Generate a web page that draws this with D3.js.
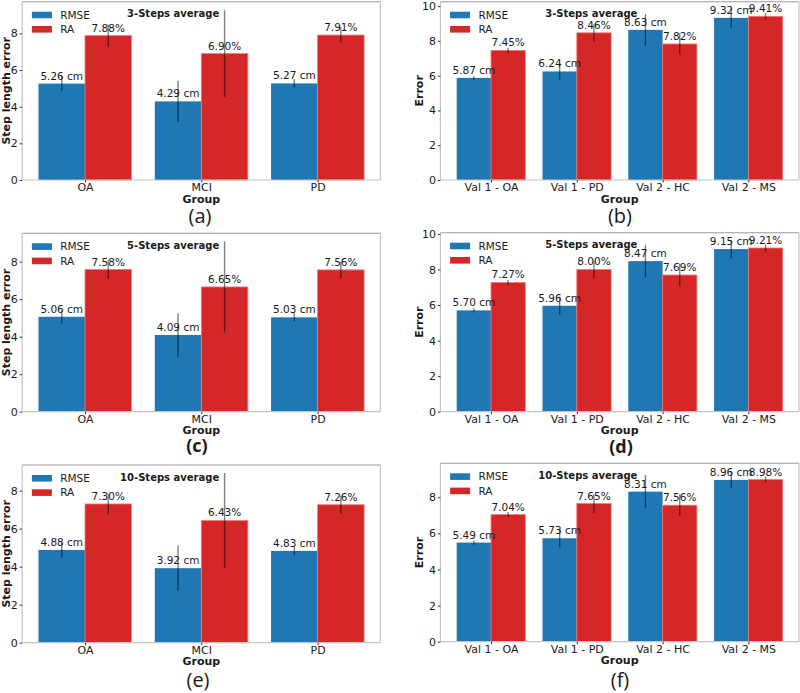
<!DOCTYPE html>
<html>
<head>
<meta charset="utf-8">
<script src="https://cdn.jsdelivr.net/npm/d3@7"></script>
<style>
  html, body { margin: 0; padding: 0; background: #fff; }
  svg { display: block; }
  text { font-family: "DejaVu Sans", sans-serif; fill: #1a1a1a; }
</style>
</head>
<body>
<svg id="chart" width="800" height="693"></svg>
<script>
// ---------- data ----------
const groupsLeft = ["OA", "MCI", "PD"];
const groupsRight = ["Val 1 - OA", "Val 1 - PD", "Val 2 - HC", "Val 2 - MS"];
const seriesNames = ["RMSE", "RA"];

const rmse3L = [5.26, 4.29, 5.27];
const ra3L = [7.88, 6.90, 7.91];
const rmse3LErr = [0.42, 1.13, 0.23];
const ra3LErr = [0.61, 2.36, 0.44];

const rmse3R = [5.87, 6.24, 8.63, 9.32];
const ra3R = [7.45, 8.46, 7.82, 9.41];
const rmse3RErr = [0.10, 0.50, 0.92, 0.57];
const ra3RErr = [0.15, 0.50, 0.62, 0.20];

const rmse5L = [5.06, 4.09, 5.03];
const ra5L = [7.58, 6.65, 7.56];
const rmse5LErr = [0.36, 1.16, 0.22];
const ra5LErr = [0.50, 2.43, 0.44];

const rmse5R = [5.70, 5.96, 8.47, 9.15];
const ra5R = [7.27, 8.00, 7.69, 9.21];
const rmse5RErr = [0.12, 0.52, 0.91, 0.53];
const ra5RErr = [0.14, 0.50, 0.65, 0.20];

const rmse10L = [4.88, 3.92, 4.83];
const ra10L = [7.30, 6.43, 7.26];
const rmse10LErr = [0.40, 1.20, 0.22];
const ra10LErr = [0.53, 2.50, 0.47];

const rmse10R = [5.49, 5.73, 8.31, 8.96];
const ra10R = [7.04, 7.65, 7.56, 8.98];
const rmse10RErr = [0.12, 0.50, 0.92, 0.48];
const ra10RErr = [0.14, 0.52, 0.60, 0.15];

const titles = ["3-Steps average", "5-Steps average", "10-Steps average"];
const panelLetters = ["(a)", "(b)", "(c)", "(d)", "(e)", "(f)"];
const yTicksLeft = [0, 2, 4, 6, 8];
const yTicksRight10 = [0, 2, 4, 6, 8, 10];
const yTicksRight8 = [0, 2, 4, 6, 8];

// ---------- layout ----------
const colors = { RMSE: "#1f77b4", RA: "#d62728" };

const panels = [
  { groups: groupsLeft, rmse: rmse3L, ra: ra3L, rmseErr: rmse3LErr, raErr: ra3LErr, title: titles[0], letter: panelLetters[0],
    left: 22.2, right: 380.4, top: 1.7, zero: 180, ymax: 9.73, yTicks: yTicksLeft, ylabel: "Step length error", ylx: 9.5, letterX: 200, letterY: 223, letterW: "normal", letterS: 20 },
  { groups: groupsRight, rmse: rmse3R, ra: ra3R, rmseErr: rmse3RErr, raErr: ra3RErr, title: titles[0], letter: panelLetters[1],
    left: 440.4, right: 799, top: 1.7, zero: 180, ymax: 10.25, yTicks: yTicksRight10, ylabel: "Error", ylx: 422.7, letterX: 620, letterY: 223, letterW: "normal", letterS: 20 },
  { groups: groupsLeft, rmse: rmse5L, ra: ra5L, rmseErr: rmse5LErr, raErr: ra5LErr, title: titles[1], letter: panelLetters[2],
    left: 22.2, right: 380.4, top: 233.3, zero: 411.7, ymax: 9.51, yTicks: yTicksLeft, ylabel: "Step length error", ylx: 9.5, letterX: 197, letterY: 452, letterW: "bold", letterS: 18 },
  { groups: groupsRight, rmse: rmse5R, ra: ra5R, rmseErr: rmse5RErr, raErr: ra5RErr, title: titles[1], letter: panelLetters[3],
    left: 440.4, right: 799, top: 232.7, zero: 411.7, ymax: 10.07, yTicks: yTicksRight10, ylabel: "Error", ylx: 422.7, letterX: 621, letterY: 453, letterW: "bold", letterS: 18 },
  { groups: groupsLeft, rmse: rmse10L, ra: ra10L, rmseErr: rmse10LErr, raErr: ra10LErr, title: titles[2], letter: panelLetters[4],
    left: 22.2, right: 380.4, top: 465, zero: 642.7, ymax: 9.35, yTicks: yTicksLeft, ylabel: "Step length error", ylx: 9.5, letterX: 198, letterY: 687, letterW: "normal", letterS: 20 },
  { groups: groupsRight, rmse: rmse10R, ra: ra10R, rmseErr: rmse10RErr, raErr: ra10RErr, title: titles[2], letter: panelLetters[5],
    left: 440.4, right: 799, top: 463.3, zero: 641.7, ymax: 9.88, yTicks: yTicksRight8, ylabel: "Error", ylx: 422.7, letterX: 620, letterY: 687, letterW: "normal", letterS: 20 }
];

const svg = d3.select("#chart");
const barW = 0.4;

panels.forEach(p => {
  const n = p.groups.length;
  const lo = -barW, hi = n - 1 + barW;
  const pad = (hi - lo) * 0.05;
  const x = d3.scaleLinear().domain([lo - pad, hi + pad]).range([p.left, p.right]);
  const y = d3.scaleLinear().domain([0, p.ymax]).range([p.zero, p.top]);
  const g = svg.append("g");

  const rows = [];
  p.groups.forEach((grp, i) => {
    rows.push({ s: "RMSE", i, v: p.rmse[i], e: p.rmseErr[i], x0: i - barW, label: p.rmse[i].toFixed(2) + " cm" });
    rows.push({ s: "RA", i, v: p.ra[i], e: p.raErr[i], x0: i, label: p.ra[i].toFixed(2) + "%" });
  });

  // bars
  g.selectAll("rect.bar").data(rows).enter().append("rect")
    .attr("class", "bar")
    .attr("x", d => x(d.x0))
    .attr("width", d => x(d.x0 + barW) - x(d.x0))
    .attr("y", d => y(d.v))
    .attr("height", d => y(0) - y(d.v))
    .attr("fill", d => colors[d.s])
    .attr("stroke", d => d.s === "RA" ? "#ee7d7d" : "none")
    .attr("stroke-width", 0.8);

  // spines
  const spine = g.append("g").attr("fill", "none");
  spine.append("line").attr("x1", p.left).attr("x2", p.right).attr("y1", p.top).attr("y2", p.top).attr("stroke", "#9a9a9a").attr("stroke-width", 1.1);
  spine.append("line").attr("x1", p.left).attr("x2", p.left).attr("y1", p.top).attr("y2", p.zero).attr("stroke", "#c4c4c4").attr("stroke-width", 1.2);
  spine.append("line").attr("x1", p.right).attr("x2", p.right).attr("y1", p.top).attr("y2", p.zero).attr("stroke", "#c4c4c4").attr("stroke-width", 1.2);
  spine.append("line").attr("x1", p.left).attr("x2", p.right).attr("y1", p.zero).attr("y2", p.zero).attr("stroke", "#c4c4c4").attr("stroke-width", 1.2);

  // error bars
  g.selectAll("line.err").data(rows).enter().append("line")
    .attr("class", "err")
    .attr("x1", d => x(d.x0 + barW / 2))
    .attr("x2", d => x(d.x0 + barW / 2))
    .attr("y1", d => y(d.v - d.e))
    .attr("y2", d => y(d.v + d.e))
    .attr("stroke", "#000")
    .attr("stroke-opacity", 0.5)
    .attr("stroke-width", 1.4);

  // value labels
  g.selectAll("text.val").data(rows).enter().append("text")
    .attr("class", "val")
    .attr("x", d => x(d.x0 + barW / 2))
    .attr("y", d => y(d.v) - 4)
    .attr("text-anchor", "middle")
    .attr("font-size", 10.5)
    .text(d => d.label);

  // y axis
  const yAxis = d3.axisLeft(y).tickValues(p.yTicks).tickSize(2.5).tickPadding(2).tickFormat(d3.format("d"));
  const ya = g.append("g").attr("transform", `translate(${p.left},0)`).call(yAxis);
  ya.select(".domain").remove();
  ya.selectAll("line").attr("stroke", "#333");
  ya.selectAll("text").attr("font-size", 11).attr("fill", "#1a1a1a").style("font-family", "DejaVu Sans");

  // x axis
  const xAxis = d3.axisBottom(x).tickValues(d3.range(n)).tickSize(2.5).tickPadding(0.8).tickFormat(i => p.groups[i]);
  const xa = g.append("g").attr("transform", `translate(0,${p.zero})`).call(xAxis);
  xa.select(".domain").remove();
  xa.selectAll("line").attr("stroke", "#333");
  xa.selectAll("text").attr("font-size", 11).attr("fill", "#1a1a1a").style("font-family", "DejaVu Sans");

  // axis titles
  g.append("text")
    .attr("x", (p.left + p.right) / 2).attr("y", p.zero + 22.5)
    .attr("text-anchor", "middle").attr("font-size", 11).attr("font-weight", "bold")
    .text("Group");
  g.append("text")
    .attr("transform", `translate(${p.ylx},${(p.top + p.zero) / 2}) rotate(-90)`)
    .attr("text-anchor", "middle").attr("font-size", 11).attr("font-weight", "bold")
    .text(p.ylabel);

  // title inside plot
  g.append("text")
    .attr("x", p.left + 197).attr("y", p.top + 15.5)
    .attr("text-anchor", "end").attr("font-size", 10).attr("font-weight", "bold")
    .text(p.title);

  // legend
  seriesNames.forEach((s, k) => {
    const yy = p.top + 10 + k * 14.3;
    g.append("rect").attr("x", p.left + 9.7).attr("y", yy).attr("width", 20).attr("height", 6.6).attr("fill", colors[s]);
    g.append("text").attr("x", p.left + 38).attr("y", yy + 3.3).attr("dy", "0.35em")
      .attr("font-size", 10.5).text(s);
  });

  // panel letter
  g.append("text")
    .attr("x", p.letterX).attr("y", p.letterY)
    .attr("text-anchor", "middle").attr("font-size", p.letterS).attr("font-weight", p.letterW)
    .style("font-family", "'Open Sans', sans-serif")
    .text(p.letter);
});
</script>
</body>
</html>
